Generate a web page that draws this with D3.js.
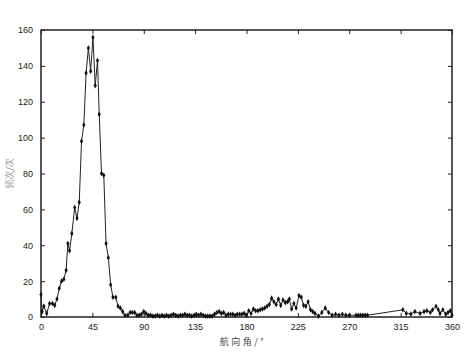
<!DOCTYPE html>
<html>
<head>
<meta charset="utf-8">
<script src="https://cdn.jsdelivr.net/npm/d3@7"></script>
<style>
  body { margin: 0; background: #fff; }
  svg { display: block; }
  .tick text { font-family: "Liberation Sans", Arial, sans-serif; font-size: 9px; fill: #222; }
</style>
</head>
<body>
<div id="chart"></div>
<script>
// heading angle (deg) and frequency
var angles = [0, 1, 2.5, 5, 7.5, 10, 12, 14, 16, 18, 20, 22, 23.5, 25, 27, 29.5, 31.5, 33.5,
    35.5, 37.5, 39.5, 41.5, 43.5, 45.5, 47.5, 49.5, 51, 53, 55, 57, 59, 61, 63, 65.5,
    67.5, 69.5, 71.5, 73.5, 76, 78, 80, 82, 84, 86, 88, 90, 92, 94, 96, 98, 100, 102,
    104, 106, 108, 110, 112, 114, 116, 118, 120, 122, 124, 126, 128, 130, 132, 134, 136,
    138, 140, 142, 144, 146, 148, 150, 152, 154, 156, 158, 160, 162, 164, 166, 168, 170,
    172, 174, 176, 178, 180, 182, 184, 186, 188, 190, 192, 194, 196, 198, 200, 202, 204,
    206, 208, 210, 212, 214, 216, 217.5, 219.5, 221.5, 223.5, 226, 228, 230, 232, 234,
    236, 238, 240, 243, 246, 249, 252, 255, 258, 261, 264, 267, 270, 276, 278, 280, 282,
    284, 286, 317, 320, 324, 327.5, 332, 335.5, 338, 341, 343, 346, 348, 349.5, 352,
    354.5, 356.5, 358.5, 360];
var counts = [12.5, 3, 6, 2, 7.5, 7.5, 6.5, 10, 16, 20, 21, 26, 41, 37, 46.5, 61, 55, 64,
    98, 107, 136, 150, 137, 156, 129, 143, 113, 80, 79, 41, 33, 18, 11, 11,
    6, 5, 3, 1, 1, 2.5, 2.5, 2.5, 1, 1, 1.5, 3, 2, 1, 1, 0.5, 0.5, 1,
    0.5, 1, 0.5, 1, 0.5, 1, 1.5, 1, 0.5, 1, 1, 1.5, 1, 1, 0.5, 1, 1.5,
    1, 1.5, 1, 0.5, 0.5, 0.5, 0.5, 1.5, 2.5, 3, 2, 2.5, 1, 1.5, 1.5, 1.5, 1,
    1.5, 1.5, 1.5, 2, 1, 3.5, 2, 4.5, 3.5, 3.5, 4, 4.5, 5, 6, 7, 10.5, 8.5,
    7, 10, 6.5, 9.5, 8, 8.5, 10, 4.5, 7.5, 5, 12, 11, 6.5, 6, 8.5,
    4, 3, 2, 0.5, 2.5, 5, 2.5, 1, 1.5, 1, 1.5, 1, 1, 1, 1, 1, 1,
    1, 1, 4, 2, 1.7, 3, 2, 3, 3.5, 2.5, 4, 6, 4, 2, 4,
    1.5, 2.5, 3.5, 1];

var xTicks = [0, 45, 90, 135, 180, 225, 270, 315, 360];
var yTicks = [0, 20, 40, 60, 80, 100, 120, 140, 160];

var svgWidth = 471;
var svgHeight = 356;

var margin = { top: 30, right: 19, bottom: 39, left: 41 };
var width = svgWidth - margin.left - margin.right;
var height = svgHeight - margin.top - margin.bottom;

var svg = d3.select("#chart")
    .append("svg")
    .attr("width", svgWidth)
    .attr("height", svgHeight);

var chartGroup = svg.append("g")
    .attr("transform", `translate(${margin.left}, ${margin.top})`);

var xScale = d3.scaleLinear().domain([0, 360]).range([0, width]);
var yScale = d3.scaleLinear().domain([0, 160]).range([height, 0]);

// MATLAB style: ticks pointing inward on all four sides
var tickLen = 4;

chartGroup.append("g")
    .attr("transform", `translate(0, ${height})`)
    .call(d3.axisBottom(xScale).tickValues(xTicks).tickSizeInner(-tickLen).tickSizeOuter(0).tickPadding(7));

chartGroup.append("g")
    .call(d3.axisTop(xScale).tickValues(xTicks).tickSizeInner(-tickLen).tickSizeOuter(0).tickFormat(""));

chartGroup.append("g")
    .call(d3.axisLeft(yScale).tickValues(yTicks).tickSizeInner(-tickLen).tickSizeOuter(0).tickPadding(8));

chartGroup.append("g")
    .attr("transform", `translate(${width}, 0)`)
    .call(d3.axisRight(yScale).tickValues(yTicks).tickSizeInner(-tickLen).tickSizeOuter(0).tickFormat(""));

chartGroup.selectAll(".domain").remove();
chartGroup.selectAll(".tick line").attr("stroke", "#222");

// frame
chartGroup.append("rect")
    .attr("x", 0)
    .attr("y", 0)
    .attr("width", width)
    .attr("height", height)
    .attr("fill", "none")
    .attr("stroke", "#222")
    .attr("stroke-width", 1.5);

var pts = angles.map(function(a, i) { return [a, counts[i]]; });

var line = d3.line()
    .x(d => xScale(d[0]))
    .y(d => yScale(d[1]));

chartGroup.append("path")
    .datum(pts)
    .attr("fill", "none")
    .attr("stroke", "#222")
    .attr("stroke-width", 1)
    .attr("d", line);

chartGroup.selectAll(".pt")
    .data(pts)
    .enter()
    .append("path")
    .attr("class", "pt")
    .attr("transform", d => `translate(${xScale(d[0])}, ${yScale(d[1])})`)
    .attr("d", d3.symbol().type(d3.symbolDiamond).size(9))
    .attr("fill", "#111");

// y label
svg.append("text")
    .attr("transform", `translate(13, ${margin.top + height / 2}) rotate(-90)`)
    .attr("text-anchor", "middle")
    .attr("font-family", "Noto Sans CJK SC, sans-serif")
    .attr("font-size", 9)
    .attr("fill", "#999")
    .text("频次/次");

// x label
svg.append("text")
    .attr("x", 243)
    .attr("y", 345)
    .attr("text-anchor", "middle")
    .attr("font-family", "Noto Sans CJK SC, sans-serif")
    .attr("font-size", 9)
    .attr("letter-spacing", 2.5)
    .attr("fill", "#444")
    .text("航向角/°");
</script>
</body>
</html>
